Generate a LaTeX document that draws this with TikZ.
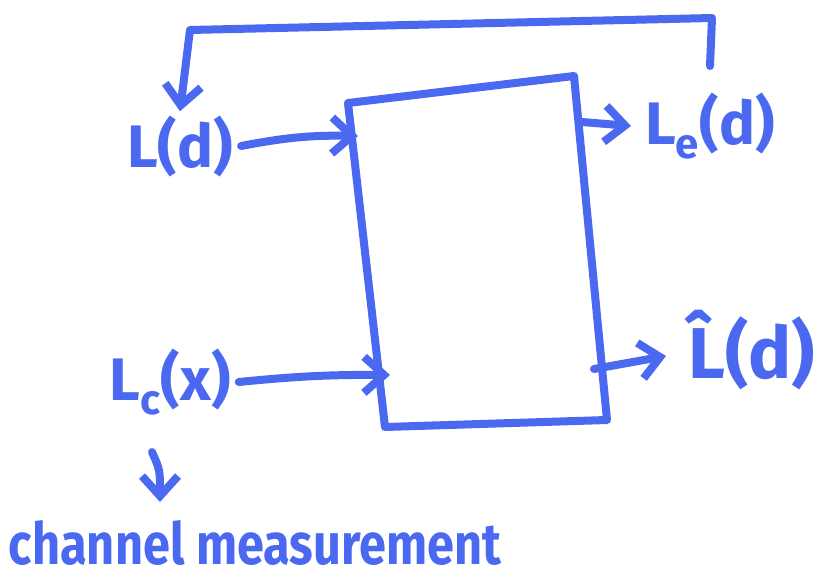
\documentclass[tikz,border=0pt]{standalone}
\usepackage{fontspec}
\setmainfont{Fira Sans}
\usetikzlibrary{arrows.meta}
\definecolor{ink}{RGB}{74,104,240}
\begin{document}
\begin{tikzpicture}[x=1pt,y=-1pt,
  inkline/.style={draw=ink, line width=8pt, line cap=round, line join=round},
  tip/.style={-{Straight Barb[length=20pt,width=36pt]}},
  lbl/.style={text=ink, inner sep=0pt, font=\bfseries\fontsize{60}{60}\selectfont},
  biglbl/.style={text=ink, inner sep=0pt, font=\bfseries\fontsize{72}{72}\selectfont}]
\useasboundingbox (0,0) rectangle (833,581);
% box
\coordinate (b1) at (348,103);
\coordinate (b2) at (574,76);
\coordinate (b3) at (607,420);
\coordinate (b4) at (385,427);
\draw[inkline] (b1) -- (b2) -- (b3) -- (b4) -- cycle;
% ports
\coordinate (inL) at (358,136);
\coordinate (inC) at (390,375);
\coordinate (outE) at (582,122);
\coordinate (outH) at (594,369);
% labels
\node[lbl] (Ld) at (180,146) {L(d)};
\node[lbl, anchor=west] (Le) at (645,126) {L\textsubscript{e}(d)};
\node[lbl] (Lc) at (170,382) {L\textsubscript{c}(x)};
\node[biglbl, anchor=west] (Lh) at (688,350) {\^{L}(d)};
\node[text=ink, inner sep=0pt, anchor=base, font=\bfseries\fontsize{58}{58}\selectfont] (cm) at (255,564) {\scalebox{0.84}[1]{channel measurement}};
% connectors
\coordinate (fb) at (710,66);
\coordinate (c1) at (152,452);
\coordinate (c2) at (160,502);
\draw[inkline, tip] ([xshift=8pt]Ld.east) to[bend left=6] (inL);
\draw[inkline, tip] ([xshift=8pt]Lc.east) to[bend left=3] (inC);
\draw[inkline, tip] (outE) -- ([xshift=-14pt]Le.west);
\draw[inkline, tip] (outH) -- ([xshift=-22pt,yshift=-6pt]Lh.west);
\draw[inkline, tip] (fb) -- (712,18) -- (190,30) -- ([yshift=4pt]Ld.north);
\draw[inkline, tip] (c1) .. controls (160,470) .. (c2);
\end{tikzpicture}
\end{document}
